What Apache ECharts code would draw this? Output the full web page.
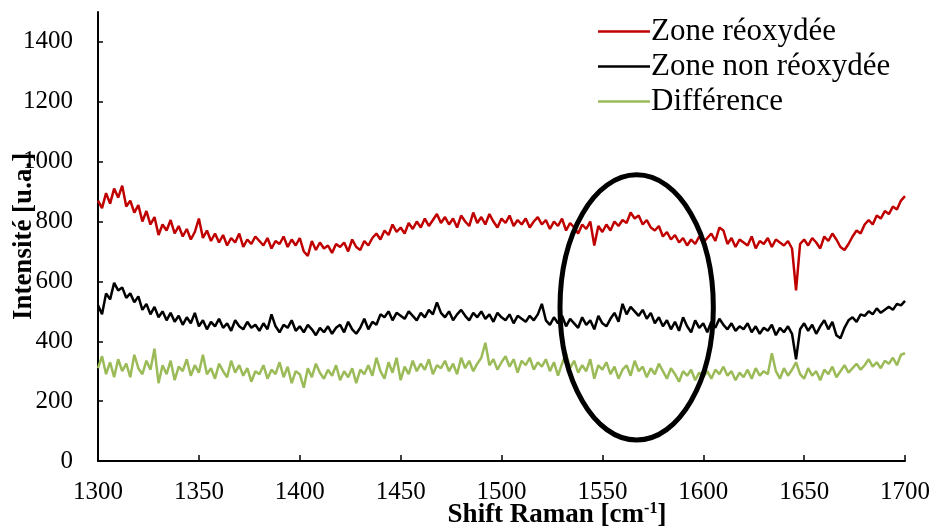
<!DOCTYPE html>
<html>
<head>
<meta charset="utf-8">
<script src="https://cdn.jsdelivr.net/npm/echarts@6/dist/echarts.min.js"></script>
<style>
html,body{margin:0;padding:0;background:#fff;}
#chart{width:933px;height:527px;}
</style>
</head>
<body>
<div id="chart"></div>
<script>
// Raman shift grid: 1300 to 1700 cm-1, sampled every 2 cm-1
const shiftStart = 1300, shiftStep = 2;

const zoneReoxydee = [
  870, 845, 895, 860, 910, 880,
  920, 850, 870, 830, 855,
  800, 835, 790, 815, 755,
  790, 770, 805, 760, 785,
  750, 775, 740, 765, 810,
  745, 770, 735, 760, 730,
  755, 720, 745, 730, 760,
  715, 740, 725, 750, 735,
  720, 745, 710, 735, 725,
  750, 715, 740, 720, 745,
  700, 685, 735, 705, 730,
  710, 720, 695, 725, 715,
  730, 700, 740, 715, 705,
  735, 720, 745, 760, 740,
  770, 755, 790, 765, 780,
  760, 795, 775, 800, 780,
  810, 785, 805, 825, 795,
  815, 790, 810, 780, 820,
  800, 785, 830, 795, 815,
  790, 825, 800, 780, 810,
  795, 820, 785, 805, 790,
  810, 780, 800, 815, 790,
  805, 775, 800, 785, 810,
  770, 795, 780, 760, 790,
  775, 800, 720, 785, 765,
  790, 770, 800, 785, 805,
  795, 830, 810, 820, 790,
  805, 780, 770, 785, 750,
  765, 740, 755, 730, 745,
  720, 740, 725, 750, 730,
  745, 760, 735, 780, 770,
  725, 745, 715, 740, 730,
  720, 750, 710, 735, 725,
  745, 715, 740, 730, 720,
  735, 710, 570, 725, 740,
  720, 745, 730, 710, 750,
  735, 760, 740, 715, 705,
  725, 750, 770, 760, 790,
  805, 790, 820, 810, 835,
  825, 850, 840, 870, 885
];

const zoneNonReoxydee = [
  520, 490, 560, 540, 595, 570,
  580, 545, 560, 530, 550,
  505, 525, 490, 515, 480,
  500, 470, 495, 465, 485,
  455, 480, 460, 495, 450,
  470, 440, 465, 450, 475,
  445, 460, 435, 470, 450,
  440, 465, 445, 455, 435,
  460, 440, 490, 450, 430,
  455, 445, 470, 435, 450,
  430, 455, 440, 420, 445,
  430, 450, 425, 445, 455,
  430, 465, 440, 425, 445,
  475, 440, 465, 455, 490,
  480, 500, 470, 495, 485,
  475, 500, 485, 470, 495,
  480, 505, 490, 530, 495,
  480, 500, 470, 490, 505,
  485, 470, 495, 480, 500,
  475, 490, 465, 495, 480,
  470, 490, 460, 485, 475,
  465, 485, 470, 490, 525,
  470, 455, 480, 460, 485,
  450, 475, 460, 445, 480,
  455, 470, 440, 485, 460,
  450, 475, 495, 465, 525,
  490, 515, 500, 485, 505,
  475, 495, 460, 480, 450,
  470, 440, 465, 435, 480,
  450, 430, 470, 445, 460,
  430, 465, 445, 475, 455,
  440, 460, 435, 450, 440,
  460, 430, 450, 425, 445,
  435, 455, 420, 445, 430,
  450, 425, 340, 440, 460,
  435, 455, 425, 450, 470,
  440, 465, 420, 410, 445,
  470, 480, 465, 490, 485,
  500, 490, 510, 495, 505,
  515, 505, 525, 520, 535
];

const difference = [
  310, 350, 290, 330, 280, 340,
  300, 325, 280, 355, 310,
  290, 335, 305, 375, 260,
  320, 290, 335, 270, 315,
  300, 340, 285, 320, 295,
  355, 290, 310, 275, 325,
  300, 280, 335, 295, 320,
  285, 310, 265, 300, 290,
  320, 275, 305, 290, 330,
  280, 315, 260, 300, 290,
  245, 310, 280, 325, 295,
  275, 305, 285, 320, 270,
  300, 280, 310, 260, 305,
  290, 320, 285, 345, 300,
  275, 330, 295, 345, 270,
  315, 290, 335, 300, 325,
  305, 340, 290, 320, 310,
  335, 300, 325, 290, 345,
  310, 335, 300, 325, 345,
  395, 320, 340, 305, 330,
  350, 315, 340, 295, 335,
  320, 345, 305, 330, 315,
  340, 300, 330, 285, 325,
  360, 310, 335, 295, 320,
  300, 340, 275, 320, 305,
  330, 290, 315, 275, 305,
  320, 285, 335, 300, 315,
  280, 310, 290, 325, 300,
  275, 310, 290, 265, 300,
  285, 305, 270, 295, 280,
  300, 275, 305, 290, 315,
  285, 300, 270, 295, 280,
  305, 275, 310, 285, 300,
  290, 360, 300, 275, 310,
  285, 305, 330, 290, 275,
  310, 285, 300, 270, 305,
  290, 315, 280, 300, 320,
  295, 310, 325, 305, 320,
  340, 315, 330, 310, 335,
  325, 345, 320, 355, 360
];

const seriesNames = ['Zone réoxydée', 'Zone non réoxydée', 'Différence'];
const seriesColors = ['#C00000', '#000000', '#9BBB59'];
const xTicks = [1300, 1350, 1400, 1450, 1500, 1550, 1600, 1650, 1700];
const yTicks = [0, 200, 400, 600, 800, 1000, 1200, 1400];

// annotation ellipse (data coordinates)
const ellipseCenter = [1567, 513];
const ellipseRadius = [38, 443];

const pairs = vals => vals.map((v, i) => [shiftStart + i * shiftStep, v]);
const allData = [zoneReoxydee, zoneNonReoxydee, difference];

const chart = echarts.init(document.getElementById('chart'), null, {renderer: 'canvas'});
const serif = '"Liberation Serif", "Times New Roman", serif';

chart.setOption({
  animation: false,
  backgroundColor: '#ffffff',
  grid: {left: 98, right: 28, top: 12, bottom: 66, containLabel: false, outerBoundsMode: 'none'},
  legend: {
    data: seriesNames,
    orient: 'vertical',
    left: 593,
    top: 9,
    icon: 'rect',
    itemWidth: 52,
    itemHeight: 2.5,
    itemGap: 0,
    textStyle: {fontFamily: serif, fontSize: 31, color: '#000', lineHeight: 35, padding: [0, 0, 0, -4]}
  },
  xAxis: {
    type: 'value',
    min: xTicks[0],
    max: xTicks[xTicks.length - 1],
    interval: 50,
    name: '{b|Shift Raman [cm}{s|-1}{b|]}',
    nameLocation: 'middle',
    nameGap: 40,
    nameMoveOverlap: false,
    nameTextStyle: {
      padding: [0, 0, 0, 111],
      rich: {
        b: {fontFamily: serif, fontSize: 27, fontWeight: 'bold', color: '#000'},
        s: {fontFamily: serif, fontSize: 16, fontWeight: 'bold', color: '#000', verticalAlign: 'top', padding: [0, 0, 12, 0]}
      }
    },
    axisLine: {lineStyle: {color: '#000', width: 2}},
    axisTick: {inside: true, length: 6, lineStyle: {color: '#000', width: 1.5}},
    axisLabel: {fontFamily: serif, fontSize: 25, color: '#000', margin: 19, formatter: v => String(v)},
    splitLine: {show: false}
  },
  yAxis: {
    type: 'value',
    min: 0,
    max: 1500,
    interval: 200,
    name: 'Intensité [u.a.]',
    nameLocation: 'middle',
    nameGap: 60,
    nameMoveOverlap: false,
    nameTextStyle: {fontFamily: serif, fontSize: 27, fontWeight: 'bold', color: '#000'},
    axisLine: {show: true, lineStyle: {color: '#000', width: 2}},
    axisTick: {show: true, inside: true, length: 5, lineStyle: {color: '#000', width: 1.5}},
    axisLabel: {fontFamily: serif, fontSize: 25, color: '#000', margin: 25, showMaxLabel: false,
      formatter: v => (yTicks.indexOf(v) >= 0 ? String(v) : '')},
    splitLine: {show: false}
  },
  series: allData.map((vals, k) => ({
    name: seriesNames[k],
    type: 'line',
    data: pairs(vals),
    showSymbol: false,
    symbol: 'none',
    color: seriesColors[k],
    itemStyle: {color: seriesColors[k]},
    lineStyle: {color: seriesColors[k], width: 2.5},
    z: 3 - k
  }))
});

// Draw the annotation ellipse through the chart's own coordinate conversion
const c = chart.convertToPixel({gridIndex: 0}, ellipseCenter);
const e = chart.convertToPixel({gridIndex: 0}, [ellipseCenter[0] + ellipseRadius[0], ellipseCenter[1] + ellipseRadius[1]]);
chart.setOption({
  graphic: [{
    type: 'ellipse',
    shape: {cx: c[0], cy: c[1], rx: Math.abs(e[0] - c[0]), ry: Math.abs(c[1] - e[1])},
    style: {fill: null, stroke: '#000', lineWidth: 5},
    z: 100
  }]
});
</script>
</body>
</html>
